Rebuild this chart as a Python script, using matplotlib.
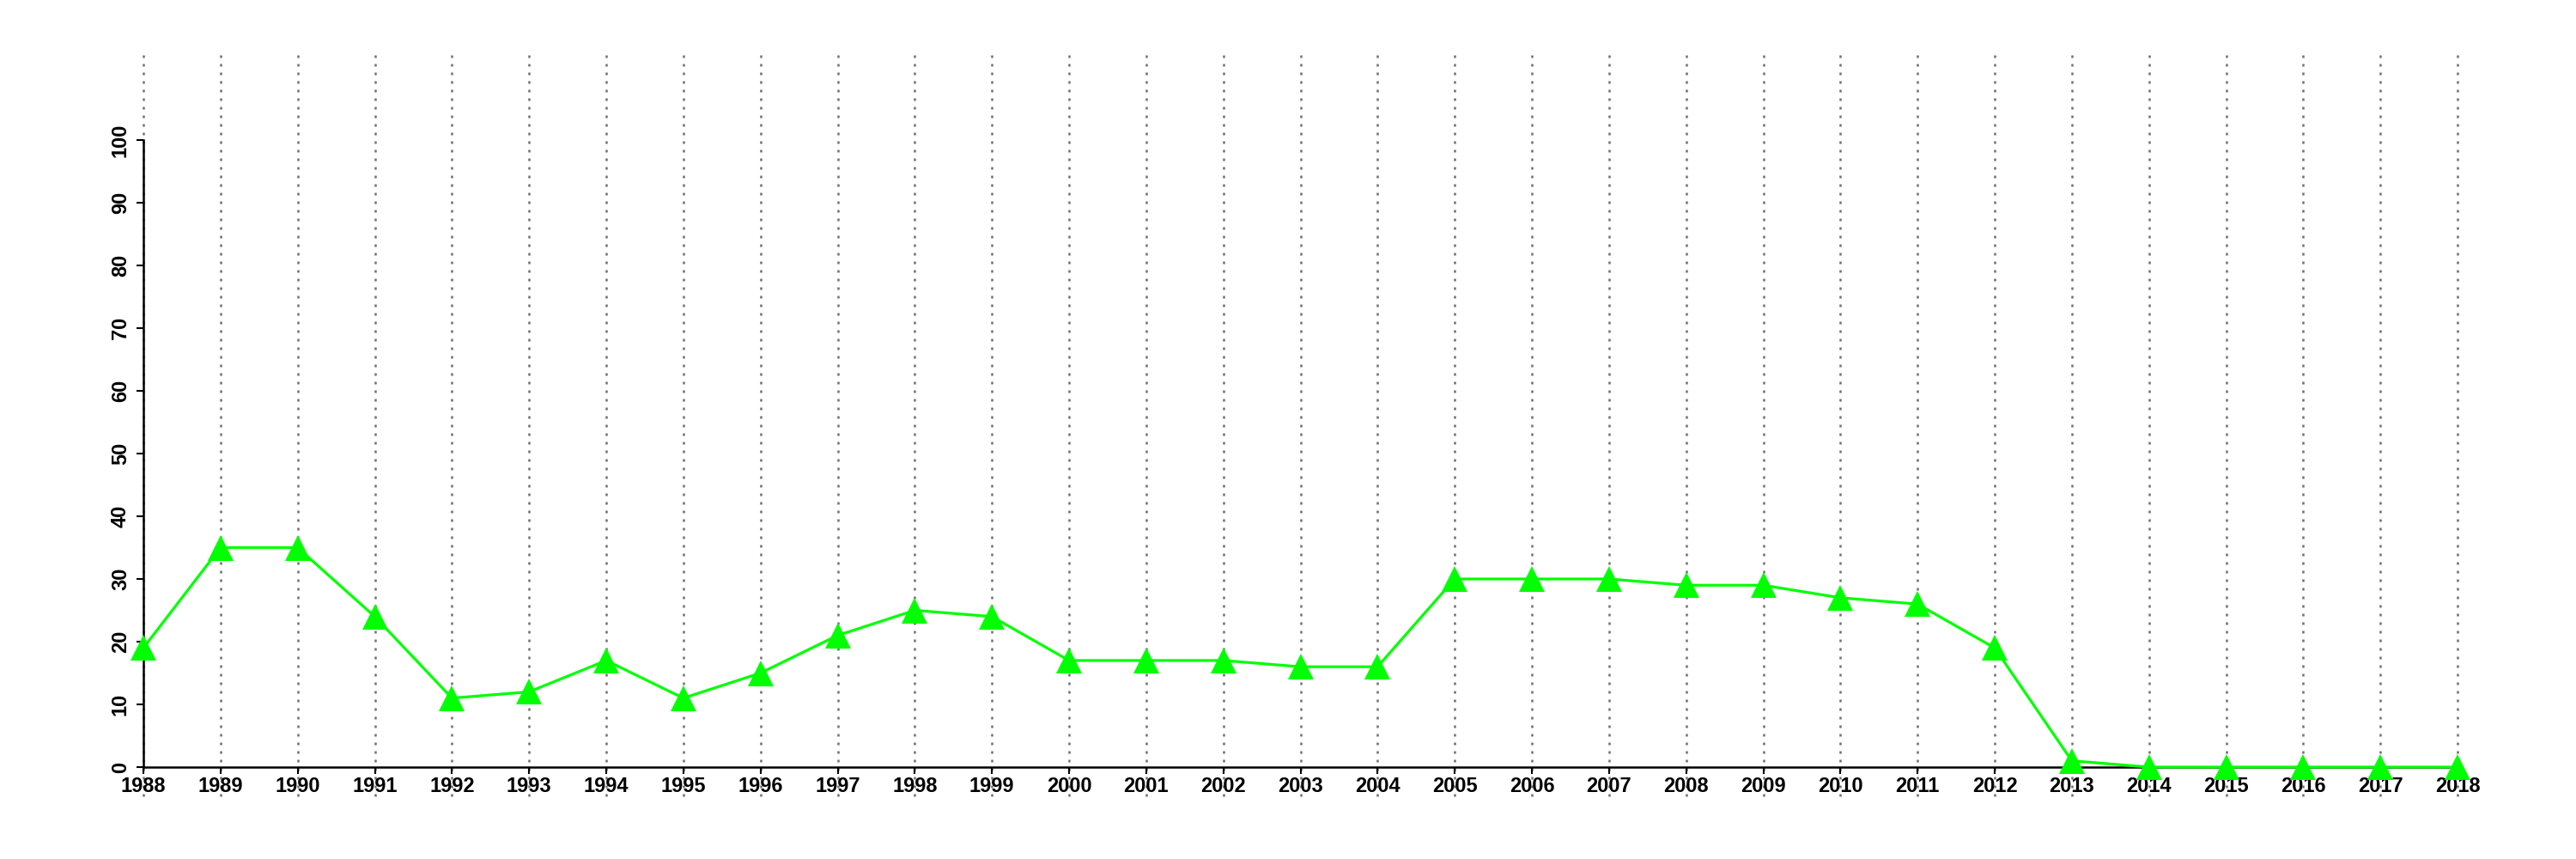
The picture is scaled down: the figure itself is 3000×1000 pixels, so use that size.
import matplotlib
matplotlib.use('Agg')
from matplotlib import pyplot as plt

# data
years = list(range(1988, 2019))
values = [19, 35, 35, 24, 11, 12, 17, 11, 15, 21, 25, 24, 17, 17, 17, 16, 16,
          30, 30, 30, 29, 29, 27, 26, 19, 1, 0, 0, 0, 0, 0]
y_ticks = [0, 10, 20, 30, 40, 50, 60, 70, 80, 90, 100]

plt.rcParams['font.family'] = ['Liberation Sans', 'DejaVu Sans']

fig = plt.figure(figsize=(30, 10), dpi=100)
ax = fig.add_axes([167/3000, 107/1000, (2862-167)/3000, (893-163)/1000])
ax.set_xlim(1988, 2018)
ax.set_ylim(0, 100)

# dotted year lines, running past the plot area
ax.vlines(years, -4.65, 114.2, colors='#707070', linestyles=(0, (1.2, 2.8)),
          linewidth=1.8, clip_on=False, zorder=1)

ax.plot(years, values, color='#00ff00', linewidth=2.3, marker='^',
        markersize=21, markeredgewidth=0, clip_on=False, zorder=3)

ax.set_xticks(years)
ax.set_xticklabels([str(y) for y in years], fontsize=17, fontweight='bold')
ax.set_yticks(y_ticks)
ax.set_yticklabels([str(v) for v in y_ticks], fontsize=17, fontweight='bold',
                   rotation=90, va='center')

ax.spines['top'].set_visible(False)
ax.spines['right'].set_visible(False)
ax.spines['left'].set_linewidth(1.8)
ax.spines['bottom'].set_linewidth(1.8)
ax.tick_params(direction='out', length=5.8, width=1.5)
ax.tick_params(axis='x', pad=2)
ax.tick_params(axis='y', pad=5)

fig.savefig('out.png', dpi=100)
